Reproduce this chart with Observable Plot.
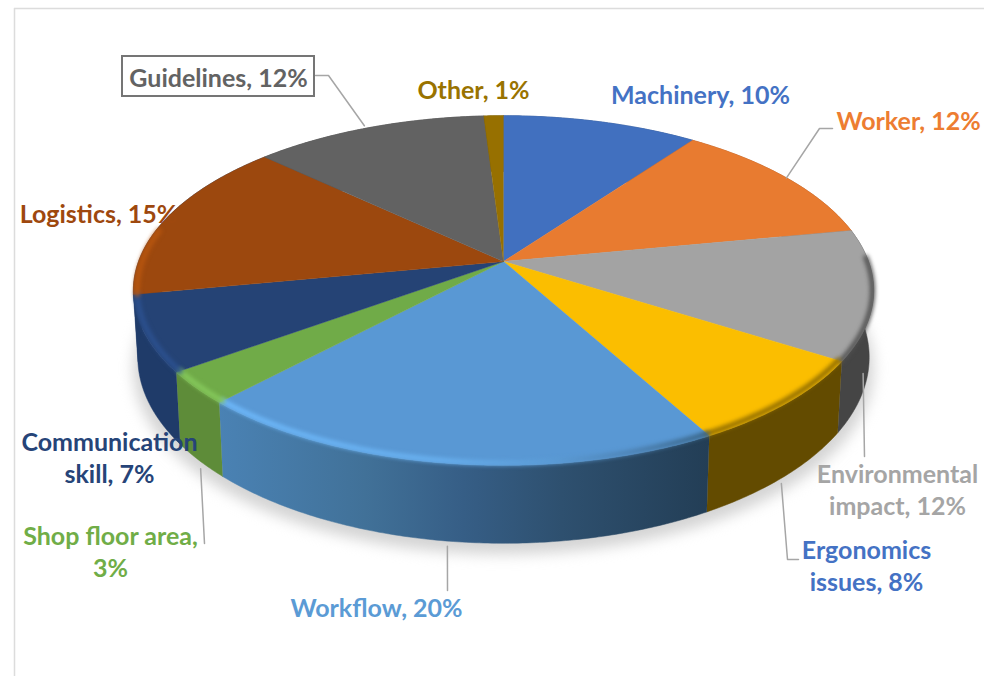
<!DOCTYPE html>
<html>
<head>
<meta charset="utf-8">
<script src="https://cdn.jsdelivr.net/npm/d3@7"></script>
<script src="https://cdn.jsdelivr.net/npm/@observablehq/plot@0.6"></script>
<style>html,body{margin:0;padding:0;background:#fff}</style>
</head>
<body>
<div id="chart"></div>
<script>
// ---- data ----
const categories = ["Machinery","Worker","Environmental impact","Ergonomics issues","Workflow","Shop floor area","Communication skill","Logistics","Guidelines","Other"];
const shares = [10,12,12,8,20,3,7,15,12,1];

// ---- colours ----
const topColors  = ["#4170bf","#e87b30","#a3a3a3","#fbbe00","#5998d4","#70ab48","#254375","#9c480e","#626262","#977000"];
const wallColors = ["#2a4a80","#9a5020","#454545","#634b00","url(#wallWorkflow)","#5e8c39","#1f3b69","#1f3b69","#444444","#665000"];
const rimColors  = [null,null,"#505050","#8f6c00","url(#rimWorkflow)","#86c95c","#2c5190","#b8560f",null,null];
const textColors = ["#4472c4","#ed7d31","#a5a5a5","#4472c4","#5b9bd5","#70ad47","#264478","#9e480e","#636363","#997300"];

// ---- label layout ----
const labelText = ["Machinery, 10%","Worker, 12%","Environmental\nimpact, 12%","Ergonomics\nissues, 8%","Workflow, 20%","Shop floor area,\n3%","Communication\nskill, 7%","Logistics, 15%","Guidelines, 12%","Other, 1%"];
const labelX = [700,908,897,866,376,110,109,98,218,473];
const labelY = [93,119,488,564,606,550,456,212,76,88];
// leader elbows, in reading order from the slice out to its label
const leaderPath = {
  "Worker": {gap:[0,0], via:[[819,128],[832,128]]},
  "Environmental impact": {gap:[-6,12], via:[[864,456]]},
  "Ergonomics issues": {gap:[-3,7], via:[[787,559],[798,559]]},
  "Workflow": {gap:[-2,5], via:[[447,590]]},
  "Shop floor area": {gap:[1,8], via:[[204,543]]},
  "Guidelines": {gap:[-4,-2], via:[[328,75],[315,75]]}
};

// ---- projection of the tilted disc ----
const cx = 503, cy = 261, R = 365, A = 170, K = 0.166, D = 65, SHRINK = 0.988;
const tau = Math.PI * 2;
const topPt = (t, s = 1) => {
  const X = Math.sin(t) * s, Y = Math.cos(t) * s, d = 1 + K * Y;
  return {x: cx + R * X / d, y: cy - A * Y / d, d};
};
const bottomPt = (t) => {
  const p = topPt(t);
  return {x: cx + (p.x - cx) * SHRINK, y: p.y + D / p.d};
};
let acc = 0;
const total = d3.sum(shares);
const slices = categories.map((name, i) => {
  const a0 = acc / total * tau; acc += shares[i];
  const a1 = acc / total * tau;
  return {name, i, a0, a1, mid: (a0 + a1) / 2};
});
const arc = (a0, a1, f) => {
  const n = Math.max(2, Math.ceil((a1 - a0) / 0.01));
  return d3.range(n + 1).map(j => f(a0 + (a1 - a0) * j / n));
};
const topFace = s => [{x: cx, y: cy}, ...arc(s.a0, s.a1, t => topPt(t))];
const wall = s => [...arc(s.a0, s.a1, t => topPt(t)), ...arc(s.a0, s.a1, bottomPt).reverse()];

const defsMark = () => {
  const defs = d3.create("svg:defs");
  const grad = (id, stops) => {
    const g = defs.append("linearGradient").attr("id", id).attr("gradientUnits", "userSpaceOnUse")
      .attr("x1", 218).attr("x2", 708).attr("y1", 0).attr("y2", 0);
    stops.forEach(([o, c]) => g.append("stop").attr("offset", o).attr("stop-color", c));
  };
  grad("wallWorkflow", [[0,"#4a82b4"],[0.3,"#417198"],[0.5,"#365e86"],[0.7,"#2e506f"],[1,"#233e56"]]);
  grad("rimWorkflow", [[0,"#6fbafc"],[0.45,"#69b1f0"],[0.68,"#5b9bd5"],[0.85,"#4c80b0"],[1,"#36607f"]]);
  return defs.node();
};

const fillMark = (pts, fill) => Plot.line(pts, {x: "x", y: "y", fill, stroke: fill, strokeWidth: 0.5});

const shadow = arc(0, tau, bottomPt).map(p => ({x: cx + (p.x - cx) * 1.012, y: p.y + 11}));

const rims = slices.filter(s => rimColors[s.i]).map(s => {
  const isEnv = s.name === "Environmental impact";
  const end = s.name === "Logistics" ? s.a0 + (s.a1 - s.a0) * 0.4 : s.a1;
  const start = isEnv ? s.a0 + (s.a1 - s.a0) * 0.22 : s.a0;
  const inset = isEnv ? 0.997 : 0.99;
  return Plot.line(arc(start, end, t => topPt(t, inset)), {
    x: "x", y: "y", stroke: rimColors[s.i], strokeWidth: 5, imageFilter: "blur(2px)"
  });
});

const leaders = Object.entries(leaderPath).map(([name, l]) => {
  const s = slices.find(d => d.name === name);
  const front = Math.cos(s.mid) < -0.1 || name === "Environmental impact";
  const p = front ? bottomPt(s.mid) : topPt(s.mid);
  return [{x: p.x + l.gap[0], y: p.y + l.gap[1]}, ...l.via.map(([x, y]) => ({x, y}))];
});

const labels = slices.map(s => ({
  text: labelText[s.i], x: labelX[s.i], y: labelY[s.i], color: textColors[s.i]
}));

const plot = Plot.plot({
  width: 984, height: 676,
  margin: 0,
  x: {domain: [0, 984], range: [0, 984], axis: null},
  y: {domain: [0, 676], range: [0, 676], axis: null},
  color: {type: "identity"},
  style: {background: "#fff"},
  marks: [
    defsMark,
    Plot.ruleX([14], {y1: 8, y2: 676, stroke: "#dcdcdc", strokeWidth: 1.5}),
    Plot.ruleY([8], {x1: 14, x2: 984, stroke: "#dcdcdc", strokeWidth: 1.5}),
    Plot.line(shadow, {x: "x", y: "y", fill: "#d4d4d4", stroke: "none", imageFilter: "blur(7px)"}),
    ...slices.map(s => fillMark(wall(s), wallColors[s.i])),
    ...slices.map(s => fillMark(topFace(s), topColors[s.i])),
    ...rims,
    ...leaders.map(pts => Plot.line(pts, {x: "x", y: "y", stroke: "#a6a6a6", strokeWidth: 1.5})),
    Plot.rect([{x1: 122, x2: 314, y1: 56, y2: 96}], {x1: "x1", x2: "x2", y1: "y1", y2: "y2", fill: "#fff", stroke: "#757575", strokeWidth: 2}),
    Plot.text(labels, {
      x: "x", y: "y", text: "text", fill: "color",
      fontFamily: "Lato", fontWeight: "bold", fontSize: 25, lineHeight: 1.3,
      textAnchor: "middle", lineAnchor: "middle"
    })
  ]
});
document.getElementById("chart").appendChild(plot);
</script>
</body>
</html>
